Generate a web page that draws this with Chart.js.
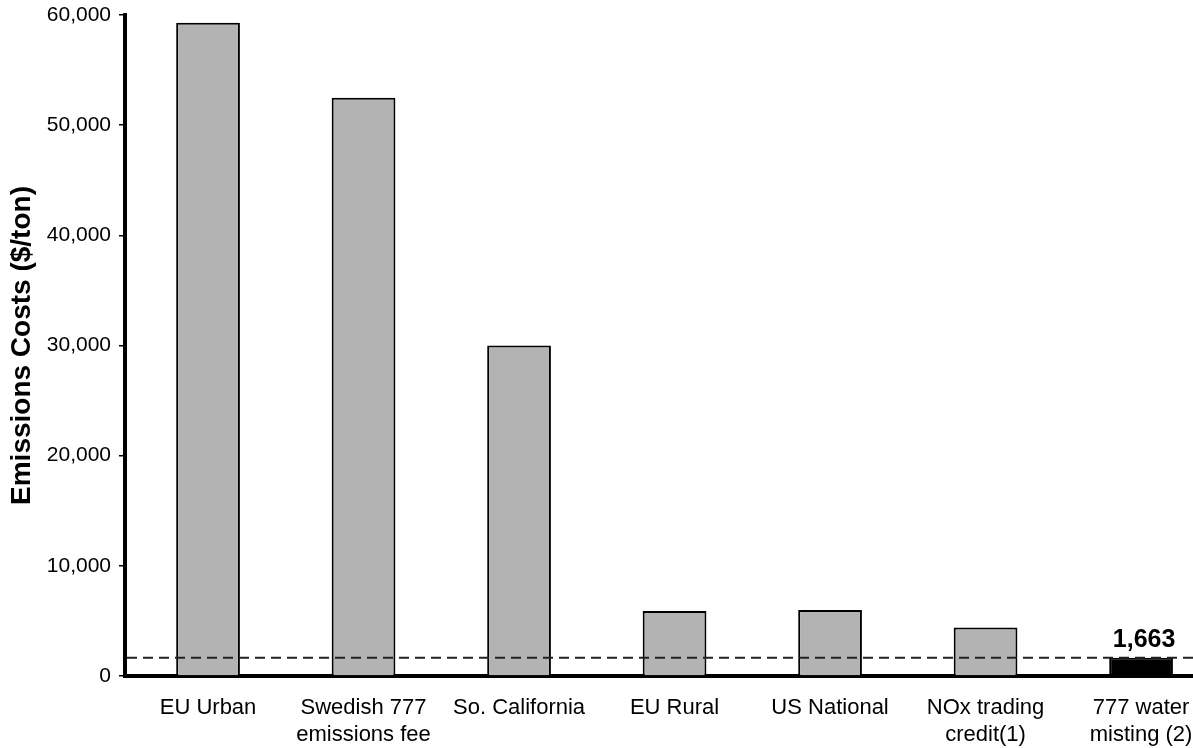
<!DOCTYPE html>
<html>
<head>
<meta charset="utf-8">
<script src="https://cdn.jsdelivr.net/npm/chart.js@4"></script>
<style>
  html, body { margin: 0; padding: 0; background: #fff; overflow: hidden; }
</style>
</head>
<body>
<canvas id="emissionsChart" width="1193" height="748"></canvas>
<script>
const categories = [
    'EU Urban',
    ['Swedish 777', 'emissions fee'],
    'So. California',
    'EU Rural',
    'US National',
    ['NOx trading', 'credit(1)'],
    ['777 water', 'misting (2)']
];
const costs = [59300, 52500, 30000, 5900, 6000, 4400, 1663];
const yTicks = [0, 10000, 20000, 30000, 40000, 50000, 60000];

const lastIdx = costs.length - 1;
const fmt = v => Number(v).toLocaleString('en-US');

// dashed reference line at the water misting cost + label over its bar
const referencePlugin = {
    id: 'reference',
    afterDatasetsDraw(chart) {
        const { ctx, chartArea, scales } = chart;
        const y = scales.y.getPixelForValue(costs[lastIdx]);
        ctx.save();
        ctx.strokeStyle = '#222';
        ctx.lineWidth = 2;
        ctx.setLineDash([10, 6]);
        ctx.beginPath();
        ctx.moveTo(chartArea.left + 2, y);
        ctx.lineTo(chartArea.right, y);
        ctx.stroke();
        ctx.setLineDash([]);

        const bar = chart.getDatasetMeta(0).data[lastIdx];
        ctx.fillStyle = '#000';
        ctx.font = 'bold 25px "Liberation Sans", Arial, sans-serif';
        ctx.textAlign = 'center';
        ctx.textBaseline = 'alphabetic';
        ctx.fillText(fmt(costs[lastIdx]), bar.x + 3, bar.y - 11);
        ctx.restore();
    }
};

const ctx = document.getElementById('emissionsChart').getContext('2d');
new Chart(ctx, {
    type: 'bar',
    data: {
        datasets: [{
            data: costs.map((v, i) => ({ x: i, y: v })),
            backgroundColor: c => c.dataIndex === lastIdx ? '#000000' : '#b3b3b3',
            borderColor: '#000',
            borderWidth: 2,
            borderSkipped: 'bottom',
            barPercentage: 0.41,
            categoryPercentage: 1
        }]
    },
    options: {
        responsive: false,
        animation: false,
        devicePixelRatio: 1,
        layout: { padding: 0 },
        plugins: {
            legend: { display: false },
            tooltip: { enabled: false }
        },
        scales: {
            x: {
                type: 'linear',
                offset: false,
                min: -0.534,
                max: 6.334,
                border: { color: '#000', width: 4 },
                grid: { display: false, drawTicks: false },
                afterBuildTicks: scale => { scale.ticks = categories.map((c, i) => ({ value: i })); },
                ticks: {
                    color: '#000',
                    padding: 19,
                    maxRotation: 0,
                    autoSkip: false,
                    callback: v => categories[v],
                    font: { family: '"Liberation Sans", Arial, sans-serif', size: 22 }
                },
                afterFit: scale => {
                    scale.height = 72;
                    scale.paddingLeft = 0;
                    scale.paddingRight = 0;
                }
            },
            y: {
                min: 0,
                max: 60000,
                border: { color: '#000', width: 4 },
                grid: { drawOnChartArea: false, color: '#000', lineWidth: 1.5, tickLength: 6 },
                afterBuildTicks: scale => { scale.ticks = yTicks.map(v => ({ value: v })); },
                ticks: {
                    color: '#000',
                    padding: 8,
                    callback: v => fmt(v),
                    font: { family: '"Liberation Sans", Arial, sans-serif', size: 21 }
                },
                title: {
                    display: true,
                    text: 'Emissions Costs ($/ton)',
                    color: '#000',
                    padding: { top: 5, bottom: 0 },
                    font: { family: '"Liberation Sans", Arial, sans-serif', size: 28, weight: 'bold' }
                },
                afterFit: scale => {
                    scale.width = 125;
                    scale.paddingTop = 15;
                    scale.paddingBottom = 0;
                }
            }
        }
    },
    plugins: [referencePlugin]
});
</script>
</body>
</html>
